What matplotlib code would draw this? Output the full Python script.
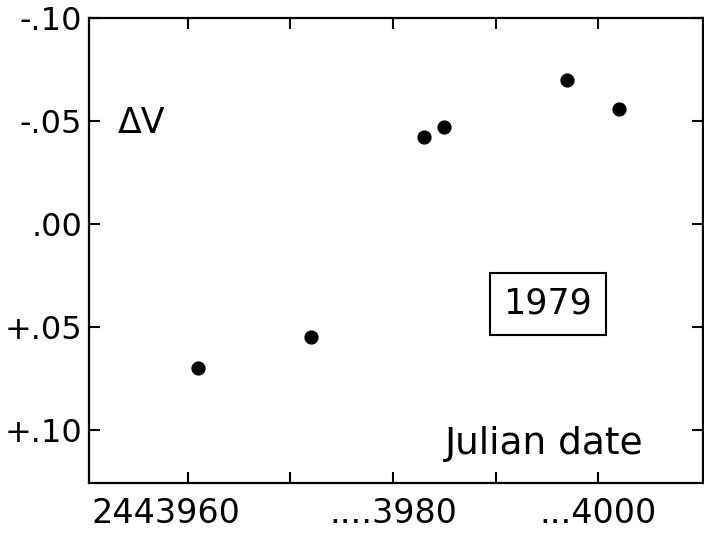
import matplotlib
matplotlib.use("Agg")
import matplotlib.pyplot as plt
import matplotlib.transforms as mtransforms

# Julian date (2443900 + ...) and delta V magnitudes
jd = [3961, 3972, 3983, 3985, 3997, 4002]
dv = [0.070, 0.055, -0.042, -0.047, -0.070, -0.056]

x_ticks = [3960, 3970, 3980, 3990, 4000]
x_labels = ["2443960", "", "....3980", "", "...4000"]
y_ticks = [-0.10, -0.05, 0.00, 0.05, 0.10]
y_labels = ["-.10", "-.05", ".00", "+.05", "+.10"]

plt.rcParams["font.family"] = ["DejaVu Sans"]

fig = plt.figure(figsize=(7.04, 5.36), dpi=100)
ax = fig.add_axes([89 / 704, 1 - 483 / 536, (703 - 89) / 704, (483 - 18) / 536])

ax.scatter(jd, dv, s=85, color="black", zorder=3)

ax.set_xlim(3950.4, 4010.2)
ax.set_ylim(0.126, -0.10)

ax.set_xticks(x_ticks)
ax.set_xticklabels(x_labels, fontsize=24)
ax.set_yticks(y_ticks)
ax.set_yticklabels(y_labels, fontsize=23)
ax.tick_params(direction="in", length=8, width=1.5, top=True, right=True, pad=5)
ax.tick_params(axis="x", pad=10)

# first date label sits a bit left of its tick in the original
lab = ax.get_xticklabels()[0]
lab.set_transform(lab.get_transform() + mtransforms.ScaledTranslation(-0.22, 0, fig.dpi_scale_trans))

for s in ax.spines.values():
    s.set_linewidth(1.6)

ax.text(3955.5, -0.049, "ΔV", fontsize=25, ha="center", va="center")
ax.text(3994.7, 0.107, "Julian date", fontsize=27, ha="center", va="center")
ax.text(3995.1, 0.039, "1979", fontsize=25, ha="center", va="center",
        bbox=dict(boxstyle="square,pad=0.4", facecolor="white", edgecolor="black", linewidth=1.5))

fig.savefig("out.png", dpi=100)
